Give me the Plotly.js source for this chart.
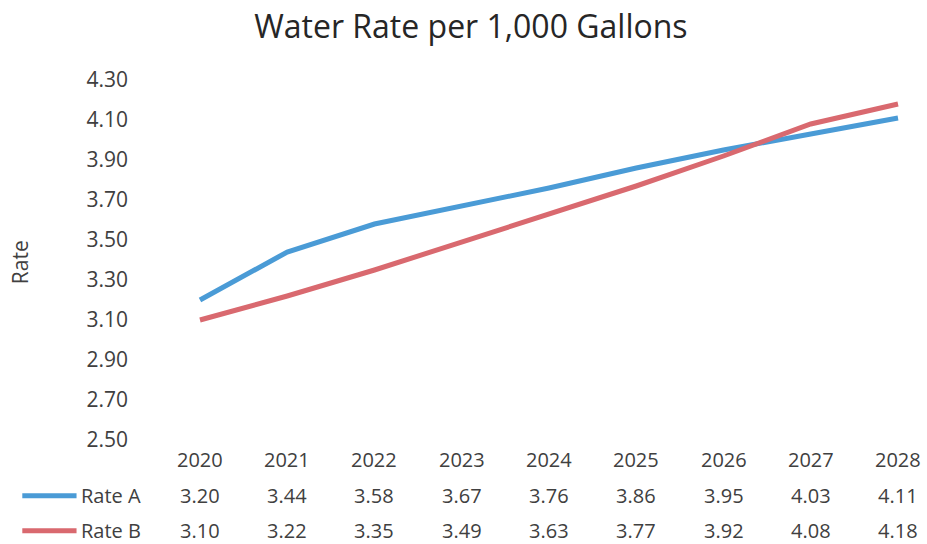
<!DOCTYPE html>
<html>
<head>
<meta charset="utf-8">
<script src="https://cdn.plot.ly/plotly-3.0.1.min.js"></script>
<style>html,body{margin:0;padding:0;background:#fff;}#chart{width:927px;height:544px;}</style>
</head>
<body>
<div id="chart"></div>
<script>
const years = [2020, 2021, 2022, 2023, 2024, 2025, 2026, 2027, 2028];
const rateA = [3.20, 3.44, 3.58, 3.67, 3.76, 3.86, 3.95, 4.03, 4.11];
const rateB = [3.10, 3.22, 3.35, 3.49, 3.63, 3.77, 3.92, 4.08, 4.18];
const seriesNames = ['Rate A', 'Rate B'];
const colorA = '#4A9BD6';
const colorB = '#D9696F';
const FONT = 'Open Sans, Noto Sans, sans-serif';
const TXT = '#404040';
const FS = 21;
const FT = 20;

const traces = [
  {x: years, y: rateA, name: seriesNames[0], type: 'scatter', mode: 'lines',
   line: {color: colorA, width: 5}},
  {x: years, y: rateB, name: seriesNames[1], type: 'scatter', mode: 'lines',
   line: {color: colorB, width: 5}}
];

const annotations = [];
// Year row of the data table
years.forEach(yr => annotations.push({x: yr, y: -0.053, xref: 'x', yref: 'paper',
  xanchor: 'center', yanchor: 'middle',
  text: String(yr), showarrow: false, font: {family: FONT, size: FT, color: TXT}}));
const rows = [[rateA, -0.155], [rateB, -0.252]];
rows.forEach(([vals, py]) => vals.forEach((v, i) => annotations.push({x: years[i], y: py,
  xref: 'x', yref: 'paper', xanchor: 'center', yanchor: 'middle', text: v.toFixed(2), showarrow: false,
  font: {family: FONT, size: FT, color: TXT}})));
// Legend labels in the table
seriesNames.forEach((n, i) => annotations.push({x: -0.101, y: rows[i][1], xref: 'paper', yref: 'paper',
  xanchor: 'left', yanchor: 'middle', text: n, showarrow: false, font: {family: FONT, size: FT, color: TXT}}));
// Y-axis title
annotations.push({x: -0.178, y: 0.494, xref: 'paper', yref: 'paper', xanchor: 'center', yanchor: 'middle',
  text: 'Rate', textangle: -90, showarrow: false, font: {family: FONT, size: FS, color: TXT}});

const shapes = [colorA, colorB].map((c, i) => ({type: 'line', xref: 'paper', yref: 'paper',
  x0: -0.175, x1: -0.104, y0: rows[i][1], y1: rows[i][1], line: {color: c, width: 5}}));

const layout = {
  width: 927, height: 544,
  margin: {l: 156, r: 7, t: 80, b: 104},
  paper_bgcolor: '#fff', plot_bgcolor: '#fff',
  showlegend: false,
  title: {text: 'Water Rate per 1,000 Gallons', x: 0.508, xanchor: 'center', y: 0.95, yanchor: 'middle',
    font: {family: FONT, size: 32, color: '#262626'}},
  xaxis: {range: [2019.496, 2028.252], showgrid: false, zeroline: false, showline: false,
    showticklabels: false, ticks: ''},
  yaxis: {range: [2.5, 4.3], dtick: 0.2, tick0: 2.5, tickformat: '.2f', showgrid: false,
    zeroline: false, showline: false, ticks: '', ticklabelstandoff: 27,
    tickfont: {family: FONT, size: FS, color: TXT}},
  annotations: annotations,
  shapes: shapes
};
Plotly.newPlot('chart', traces, layout, {displayModeBar: false, staticPlot: true});
</script>
</body>
</html>
